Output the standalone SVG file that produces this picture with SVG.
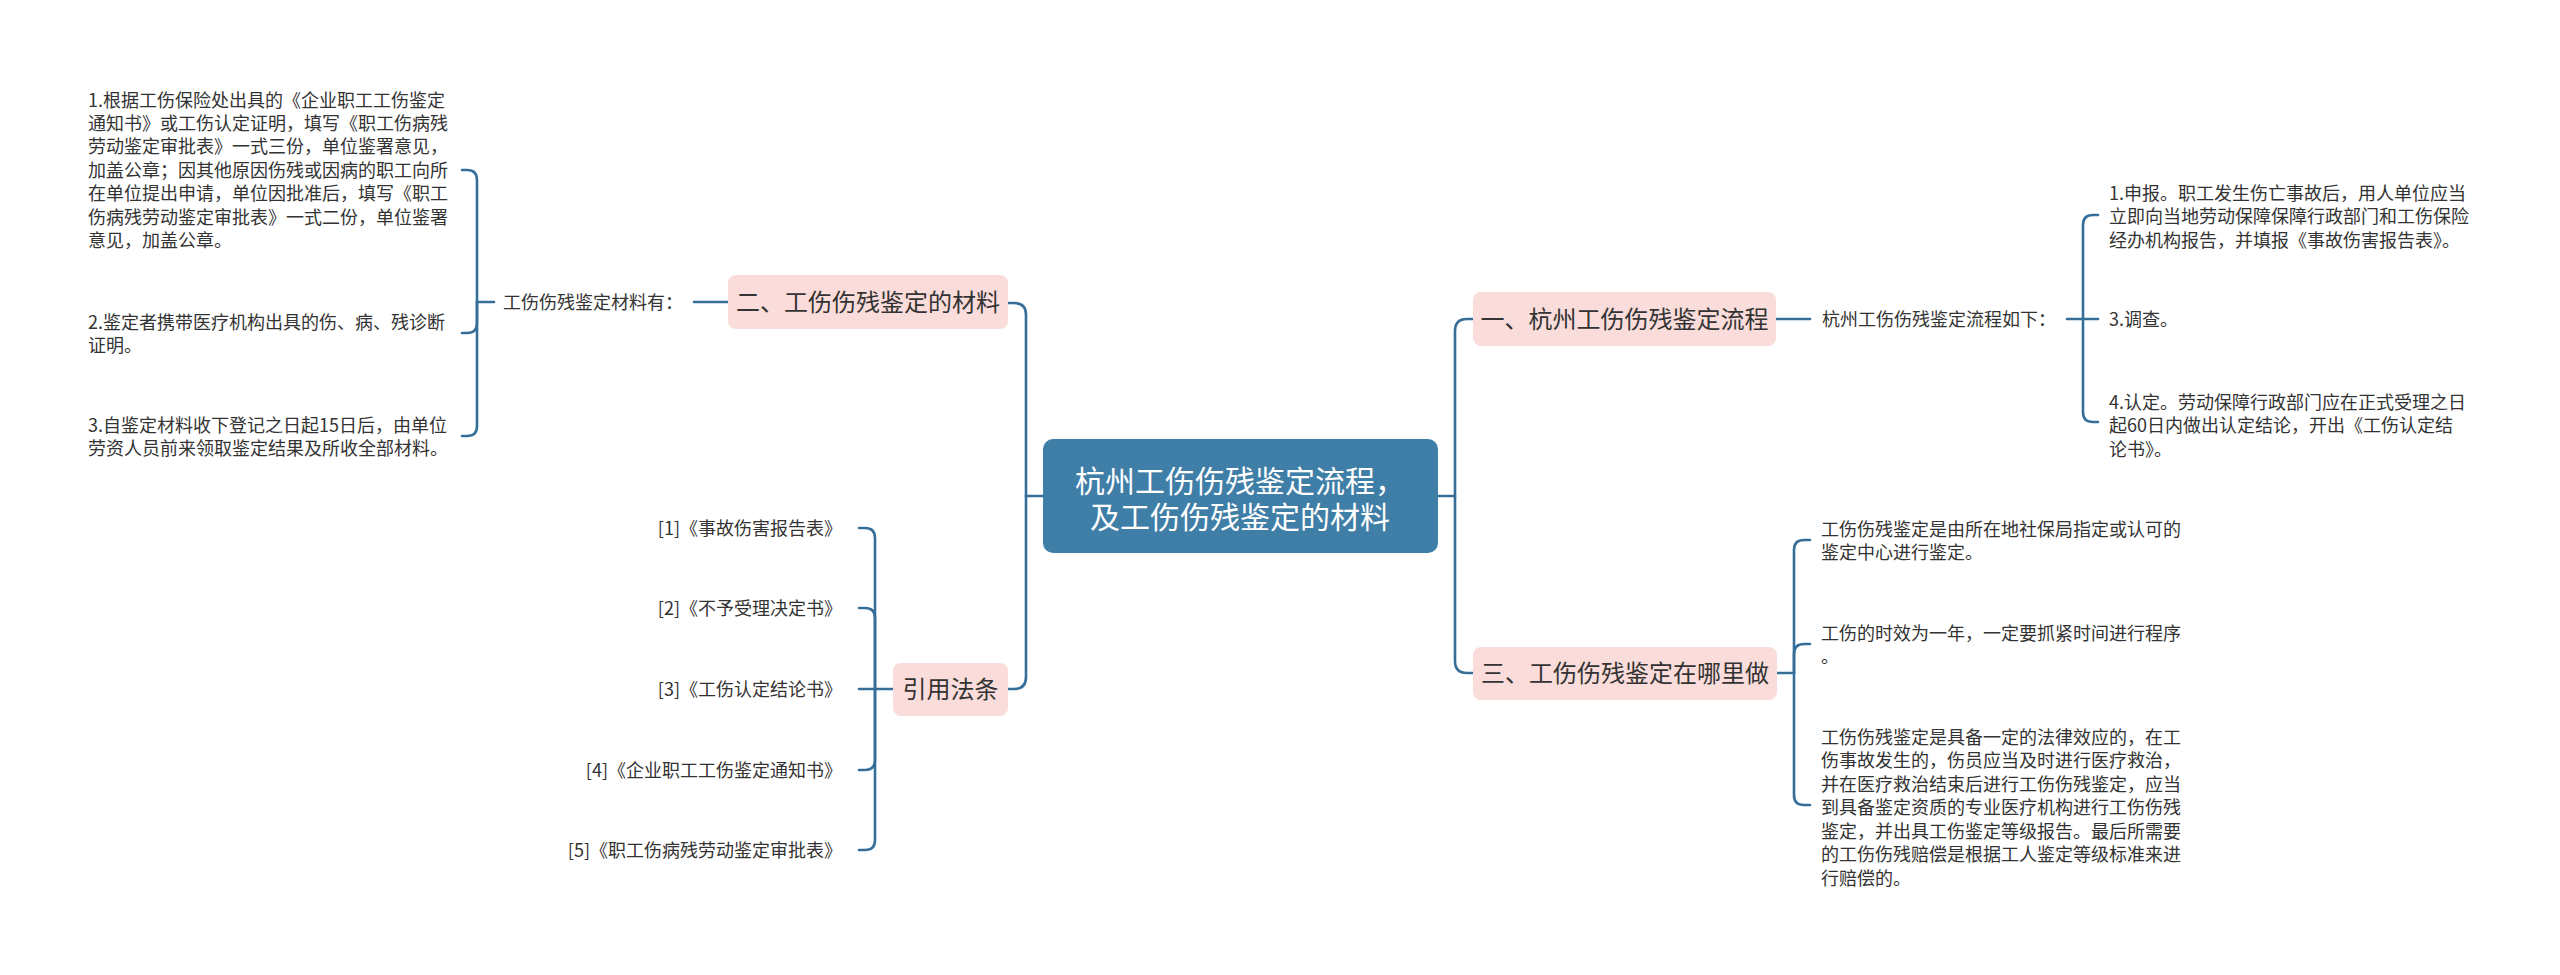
<svg xmlns="http://www.w3.org/2000/svg" width="2560" height="975" viewBox="0 0 2560 975">
<style>
text{font-family:"Noto Sans CJK SC","Noto Sans",sans-serif;fill:#333333}
.c{fill:none;stroke:#356f99;stroke-width:2.6;stroke-linecap:round}
.pink{fill:#fadcda}
.root{fill:#3f7ea6}
.t18{font-size:18px}
.t24{font-size:24px}
.t30{font-size:30px;fill:#ffffff}
</style>
<rect width="2560" height="975" fill="#ffffff"/>
<g id="connectors">
<!-- left trunk -->
<path class="c" d="M1043 496 H1026"/>
<path class="c" d="M1026 496 V315 Q1026 303 1014 303 H1008"/>
<path class="c" d="M1026 496 V677 Q1026 689 1014 689 H1008"/>
<!-- right trunk -->
<path class="c" d="M1438 496 H1455"/>
<path class="c" d="M1455 496 V331 Q1455 319 1467 319 H1473"/>
<path class="c" d="M1455 496 V661 Q1455 673 1467 673 H1473"/>
<!-- box2 to label -->
<path class="c" d="M728 302 H694"/>
<path class="c" d="M494 302 H477"/>
<path class="c" d="M477 302 V180 Q477 170 467 170 H462"/>
<path class="c" d="M477 302 V323 Q477 333 467 333 H462"/>
<path class="c" d="M477 302 V426 Q477 436 467 436 H462"/>
<!-- refs -->
<path class="c" d="M893 689 H875"/>
<path class="c" d="M875 689 V538 Q875 528 865 528 H859"/>
<path class="c" d="M875 689 V618 Q875 608 865 608 H859"/>
<path class="c" d="M875 689 H859"/>
<path class="c" d="M875 689 V760 Q875 770 865 770 H859"/>
<path class="c" d="M875 689 V840 Q875 850 865 850 H859"/>
<!-- box1 to label -->
<path class="c" d="M1776 319 H1810"/>
<path class="c" d="M2067 319 H2083"/>
<path class="c" d="M2083 319 V225 Q2083 215 2093 215 H2098"/>
<path class="c" d="M2083 319 H2098"/>
<path class="c" d="M2083 319 V412 Q2083 422 2093 422 H2098"/>
<!-- box3 -->
<path class="c" d="M1777 673 H1794"/>
<path class="c" d="M1794 673 V550 Q1794 540 1804 540 H1810"/>
<path class="c" d="M1794 673 V654 Q1794 644 1804 644 H1810"/>
<path class="c" d="M1794 673 V795 Q1794 805 1804 805 H1810"/>
</g>
<g id="root">
<rect class="root" x="1043" y="439" width="395" height="114" rx="10"/>
<text class="t30" text-anchor="middle"><tspan x="1240" y="492">杭州工伤伤残鉴定流程，</tspan><tspan x="1240" y="528">及工伤伤残鉴定的材料</tspan></text>
</g>
<g id="n2">
<rect class="pink" x="728" y="275" width="280" height="54" rx="8"/>
<text class="t24" x="868" y="310.5" text-anchor="middle">二、工伤伤残鉴定的材料</text>
</g>
<g id="n2-label">
<text class="t18" x="503" y="308.5">工伤伤残鉴定材料有：</text>
</g>
<g id="n2-item1">
<text class="t18"><tspan x="88" y="106.5">1.根据工伤保险处出具的《企业职工工伤鉴定</tspan><tspan x="88" dy="23.4">通知书》或工伤认定证明，填写《职工伤病残</tspan><tspan x="88" dy="23.4">劳动鉴定审批表》一式三份，单位鉴署意见，</tspan><tspan x="88" dy="23.4">加盖公章；因其他原因伤残或因病的职工向所</tspan><tspan x="88" dy="23.4">在单位提出申请，单位因批准后，填写《职工</tspan><tspan x="88" dy="23.4">伤病残劳动鉴定审批表》一式二份，单位鉴署</tspan><tspan x="88" dy="23.4">意见，加盖公章。</tspan></text>
</g>
<g id="n2-item2">
<text class="t18"><tspan x="88" y="328.5">2.鉴定者携带医疗机构出具的伤、病、残诊断</tspan><tspan x="88" dy="23.4">证明。</tspan></text>
</g>
<g id="n2-item3">
<text class="t18"><tspan x="88" y="431.5">3.自鉴定材料收下登记之日起15日后，由单位</tspan><tspan x="88" dy="23.4">劳资人员前来领取鉴定结果及所收全部材料。</tspan></text>
</g>
<g id="refs">
<rect class="pink" x="893" y="663" width="115" height="53" rx="8"/>
<text class="t24" x="950.5" y="698" text-anchor="middle">引用法条</text>
</g>
<g id="ref1"><text class="t18" x="842" y="534.5" text-anchor="end">[1]《事故伤害报告表》</text></g>
<g id="ref2"><text class="t18" x="842" y="614.5" text-anchor="end">[2]《不予受理决定书》</text></g>
<g id="ref3"><text class="t18" x="842" y="695.5" text-anchor="end">[3]《工伤认定结论书》</text></g>
<g id="ref4"><text class="t18" x="842" y="776.5" text-anchor="end">[4]《企业职工工伤鉴定通知书》</text></g>
<g id="ref5"><text class="t18" x="842" y="856.5" text-anchor="end">[5]《职工伤病残劳动鉴定审批表》</text></g>
<g id="n1">
<rect class="pink" x="1473" y="292" width="303" height="54" rx="8"/>
<text class="t24" x="1624.5" y="327.5" text-anchor="middle">一、杭州工伤伤残鉴定流程</text>
</g>
<g id="n1-label">
<text class="t18" x="1822" y="325.5">杭州工伤伤残鉴定流程如下：</text>
</g>
<g id="n1-item1">
<text class="t18"><tspan x="2109" y="199.5">1.申报。职工发生伤亡事故后，用人单位应当</tspan><tspan x="2109" dy="23.5">立即向当地劳动保障保障行政部门和工伤保险</tspan><tspan x="2109" dy="23.5">经办机构报告，并填报《事故伤害报告表》。</tspan></text>
</g>
<g id="n1-item3">
<text class="t18" x="2109" y="325.5">3.调查。</text>
</g>
<g id="n1-item4">
<text class="t18"><tspan x="2109" y="408.5">4.认定。劳动保障行政部门应在正式受理之日</tspan><tspan x="2109" dy="23.5">起60日内做出认定结论，开出《工伤认定结</tspan><tspan x="2109" dy="23.5">论书》。</tspan></text>
</g>
<g id="n3">
<rect class="pink" x="1473" y="647" width="304" height="53" rx="8"/>
<text class="t24" x="1625" y="681.5" text-anchor="middle">三、工伤伤残鉴定在哪里做</text>
</g>
<g id="n3-itemA">
<text class="t18"><tspan x="1821" y="535.5">工伤伤残鉴定是由所在地社保局指定或认可的</tspan><tspan x="1821" dy="23.5">鉴定中心进行鉴定。</tspan></text>
</g>
<g id="n3-itemB">
<text class="t18"><tspan x="1821" y="639.5">工伤的时效为一年，一定要抓紧时间进行程序</tspan><tspan x="1821" dy="23.5">。</tspan></text>
</g>
<g id="n3-itemC">
<text class="t18"><tspan x="1821" y="743.5">工伤伤残鉴定是具备一定的法律效应的，在工</tspan><tspan x="1821" dy="23.5">伤事故发生的，伤员应当及时进行医疗救治，</tspan><tspan x="1821" dy="23.5">并在医疗救治结束后进行工伤伤残鉴定，应当</tspan><tspan x="1821" dy="23.5">到具备鉴定资质的专业医疗机构进行工伤伤残</tspan><tspan x="1821" dy="23.5">鉴定，并出具工伤鉴定等级报告。最后所需要</tspan><tspan x="1821" dy="23.5">的工伤伤残赔偿是根据工人鉴定等级标准来进</tspan><tspan x="1821" dy="23.5">行赔偿的。</tspan></text>
</g>
</svg>
